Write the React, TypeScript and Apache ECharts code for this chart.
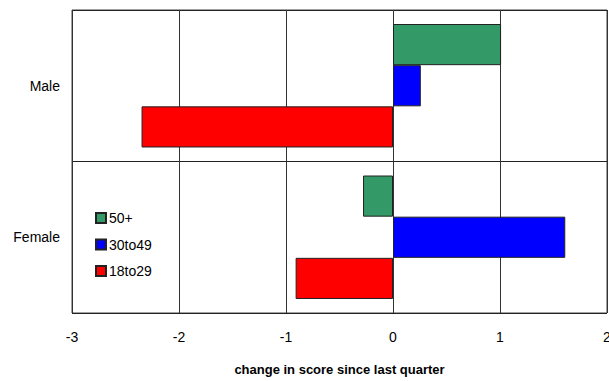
import React, { useEffect, useRef } from "react";
import * as echarts from "echarts";

// Change in score since last quarter, by gender and age group
const categories = ["Female", "Male"];
const seriesNames = ["50+", "30to49", "18to29"];
const values50plus = [-0.28, 1.01];
const values30to49 = [1.61, 0.26];
const values18to29 = [-0.91, -2.35];
const xTicks = [-3, -2, -1, 0, 1, 2];
const axisTitle = "change in score since last quarter";

const colors = ["#339966", "#0000ff", "#ff0000"];
const FONT = "Liberation Sans, Arial, sans-serif";

export default function App() {
  const ref = useRef<HTMLDivElement>(null);

  useEffect(() => {
    if (!ref.current) return;
    const chart = echarts.init(ref.current, undefined, { renderer: "svg" });
    const data = [values50plus, values30to49, values18to29];
    chart.setOption({
      animation: false,
      backgroundColor: "#ffffff",
      textStyle: { fontFamily: FONT },
      grid: {
        left: 72,
        right: 2,
        top: 10,
        bottom: 68,
        outerBoundsMode: "none",
        containLabel: false,
        show: true,
        borderColor: "#444",
        borderWidth: 1,
      },
      legend: {
        orient: "vertical",
        left: 90,
        top: 206,
        itemWidth: 10,
        itemHeight: 10,
        itemGap: 12.5,
        icon: "rect",
        data: seriesNames,
        textStyle: { fontFamily: FONT, fontSize: 14, color: "#000", padding: [0, 0, 0, -2] },
      },
      xAxis: {
        type: "value",
        min: xTicks[0],
        max: xTicks[xTicks.length - 1],
        interval: 1,
        name: axisTitle,
        nameLocation: "middle",
        nameGap: 50,
        nameTextStyle: { fontFamily: FONT, fontSize: 13, fontWeight: "bold", color: "#000" },
        axisLine: { show: false },
        axisTick: { show: false },
        axisLabel: { color: "#000", fontSize: 14, margin: 17, fontFamily: FONT },
        splitLine: { show: true, lineStyle: { color: "#333", width: 1 } },
      },
      yAxis: {
        type: "category",
        data: categories,
        axisLine: { show: false },
        axisTick: { show: false },
        axisLabel: { color: "#000", fontSize: 14, margin: 12, fontFamily: FONT },
        splitLine: { show: true, lineStyle: { color: "#222", width: 1 } },
      },
      series: seriesNames.map((name, i) => ({
        name,
        type: "bar",
        data: data[i],
        barGap: "0%",
        barCategoryGap: "18.5%",
        itemStyle: { color: colors[i], borderColor: "#222", borderWidth: 1 },
      })),
    });
    return () => chart.dispose();
  }, []);

  return <div ref={ref} style={{ width: 609, height: 381, position: "absolute", left: 0, top: 0 }} />;
}
